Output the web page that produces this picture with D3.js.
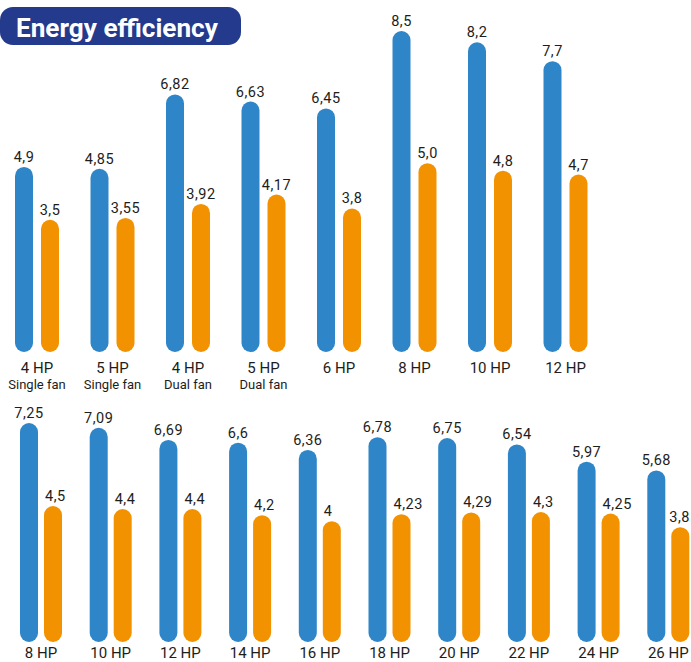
<!DOCTYPE html>
<html>
<head>
<meta charset="utf-8">
<script src="https://cdn.jsdelivr.net/npm/d3@7"></script>
<style>
html,body{margin:0;padding:0;background:#fff;}
svg{display:block;}
text{font-family:Roboto, "Noto Sans", sans-serif;}
</style>
</head>
<body>
<script>
// ---- data ----
const title = "Energy efficiency";

const topCategories = ["4 HP","5 HP","4 HP","5 HP","6 HP","8 HP","10 HP","12 HP"];
const topSubtitles  = ["Single fan","Single fan","Dual fan","Dual fan","","","",""];
const topBlue       = [4.9, 4.85, 6.82, 6.63, 6.45, 8.5, 8.2, 7.7];
const topBlueLabels = ["4,9","4,85","6,82","6,63","6,45","8,5","8,2","7,7"];
const topOrange       = [3.5, 3.55, 3.92, 4.17, 3.8, 5.0, 4.8, 4.7];
const topOrangeLabels = ["3,5","3,55","3,92","4,17","3,8","5,0","4,8","4,7"];

const bottomCategories = ["8 HP","10 HP","12 HP","14 HP","16 HP","18 HP","20 HP","22 HP","24 HP","26 HP"];
const bottomBlue       = [7.25, 7.09, 6.69, 6.6, 6.36, 6.78, 6.75, 6.54, 5.97, 5.68];
const bottomBlueLabels = ["7,25","7,09","6,69","6,6","6,36","6,78","6,75","6,54","5,97","5,68"];
const bottomOrange       = [4.5, 4.4, 4.4, 4.2, 4, 4.23, 4.29, 4.3, 4.25, 3.8];
const bottomOrangeLabels = ["4,5","4,4","4,4","4,2","4","4,23","4,29","4,3","4,25","3,8"];

// ---- styles ----
const W = 691, H = 662;
const BLUE = "#2e86c8", ORANGE = "#f39200", NAVY = "#233a8d", TXT = "#1d1d1b";

const svg = d3.select("body").append("svg").attr("width", W).attr("height", H);

// title pill
const tg = svg.append("g");
tg.append("rect").attr("x", 0).attr("y", 7).attr("width", 241).attr("height", 38)
  .attr("rx", 13).attr("fill", NAVY);
const tt = tg.append("text").attr("x", 16).attr("y", 37).attr("fill", "#fff")
  .attr("font-size", 22).attr("font-weight", 700).text(title);
const tl = tt.node().getComputedTextLength();
tt.attr("font-size", 22 * 202 / tl);

function drawRow(cfg) {
  const g = svg.append("g");
  const idx = d3.range(cfg.cats.length);
  const x = d3.scaleLinear().domain([0, cfg.cats.length - 1]).range(cfg.xRange);
  const y = d3.scaleLinear().domain(cfg.yDomain).range(cfg.yRange);
  const bw = cfg.bw, half = cfg.gap / 2;
  const series = [
    {vals: cfg.blue, labels: cfg.blueLabels, color: BLUE, off: -half - bw, anchor: "middle", lx: bw / 2},
    {vals: cfg.orange, labels: cfg.orangeLabels, color: ORANGE, off: half, anchor: cfg.orangeAnchor, lx: cfg.orangeAnchor === "start" ? 1 : bw / 2}
  ];
  series.forEach(s => {
    g.selectAll(null).data(idx).enter().append("rect")
      .attr("x", i => x(i) + s.off)
      .attr("y", i => y(s.vals[i]))
      .attr("width", bw)
      .attr("height", i => y(0) - y(s.vals[i]))
      .attr("rx", bw / 2).attr("ry", bw / 2)
      .attr("fill", s.color);
    g.selectAll(null).data(idx).enter().append("text")
      .attr("x", i => x(i) + s.off + s.lx)
      .attr("y", i => y(s.vals[i]) - 5)
      .attr("text-anchor", s.anchor)
      .attr("font-size", 14.5)
      .attr("letter-spacing", 0.5)
      .attr("fill", TXT)
      .text(i => s.labels[i])
      .each(function () {
        // keep labels inside the picture's right edge
        const bb = this.getBBox();
        const over = bb.x + bb.width - (W - 1);
        if (over > 0) d3.select(this).attr("x", +d3.select(this).attr("x") - over);
      });
  });
  g.selectAll(null).data(idx).enter().append("text")
    .attr("x", i => x(i))
    .attr("y", cfg.catY)
    .attr("text-anchor", "middle")
    .attr("font-size", 15)
    .attr("fill", TXT)
    .text(i => cfg.cats[i]);
  if (cfg.subs) {
    g.selectAll(null).data(idx.filter(i => cfg.subs[i])).enter().append("text")
      .attr("x", i => x(i))
      .attr("y", cfg.catY + 16)
      .attr("text-anchor", "middle")
      .attr("font-size", 13)
      .attr("fill", TXT)
      .text(i => cfg.subs[i]);
  }
}

drawRow({
  cats: topCategories, subs: topSubtitles,
  blue: topBlue, blueLabels: topBlueLabels,
  orange: topOrange, orangeLabels: topOrangeLabels,
  xRange: [37, 37 + 75.5 * 7],
  yDomain: [0, 8.5], yRange: [352, 31],
  bw: 18, gap: 8, catY: 373, orangeAnchor: "middle"
});

drawRow({
  cats: bottomCategories, subs: null,
  blue: bottomBlue, blueLabels: bottomBlueLabels,
  orange: bottomOrange, orangeLabels: bottomOrangeLabels,
  xRange: [41, 41 + 69.7 * 9],
  yDomain: [0, 7.25], yRange: [642, 423],
  bw: 18, gap: 6, catY: 658, orangeAnchor: "start"
});
</script>
</body>
</html>
